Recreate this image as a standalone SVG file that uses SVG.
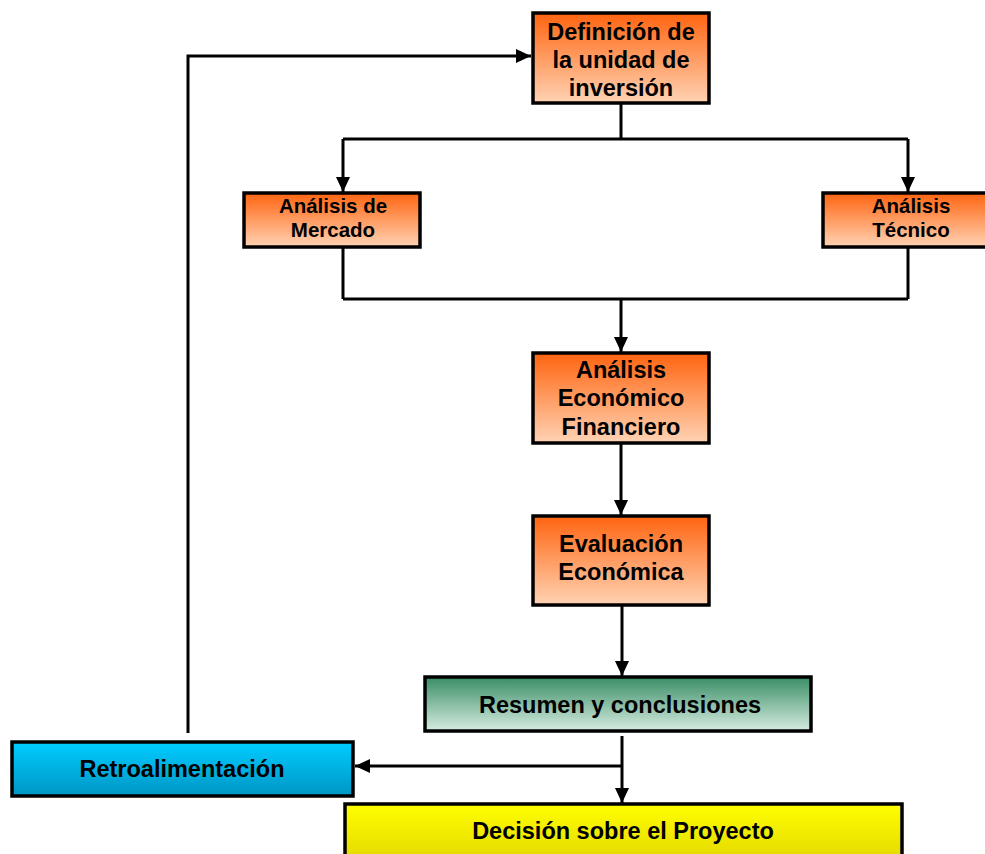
<svg xmlns="http://www.w3.org/2000/svg" width="985" height="854" viewBox="0 0 985 854">
  <style>
    .box { stroke: #000; stroke-width: 3.5; }
    .lbl { font-family: "Liberation Sans", Arial, sans-serif; font-weight: bold; fill: #000; text-anchor: middle; }
    .big { font-size: 23.5px; }
    .small { font-size: 20.5px; }
    .wire { fill: none; stroke: #000; stroke-width: 3; }
  </style>
  <defs>
    <linearGradient id="gOrange" x1="0" y1="0" x2="0" y2="1">
      <stop offset="0" stop-color="#FF6410"/>
      <stop offset="1" stop-color="#FFD3B4"/>
    </linearGradient>
    <linearGradient id="gGreen" x1="0" y1="0" x2="0" y2="1">
      <stop offset="0" stop-color="#3A8E66"/>
      <stop offset="1" stop-color="#D6ECE1"/>
    </linearGradient>
    <linearGradient id="gCyan" x1="0" y1="0" x2="0" y2="1">
      <stop offset="0" stop-color="#00CCFF"/>
      <stop offset="1" stop-color="#0096C4"/>
    </linearGradient>
    <linearGradient id="gYellow" x1="0" y1="0" x2="0" y2="1">
      <stop offset="0" stop-color="#FFFF00"/>
      <stop offset="1" stop-color="#E2D600"/>
    </linearGradient>
    <marker id="arrow" markerUnits="userSpaceOnUse" markerWidth="16" markerHeight="14" refX="15" refY="7" orient="auto">
      <path d="M0,0 L15,7 L0,14 Z" fill="#000"/>
    </marker>
  </defs>

  <g id="connectors">
    <!-- feedback loop back to the first step -->
    <polyline class="wire" points="188,733 188,56 531,56" marker-end="url(#arrow)"/>
    <!-- split into market and technical analysis -->
    <line class="wire" x1="621" y1="104" x2="621" y2="139"/>
    <line class="wire" x1="343" y1="139" x2="908" y2="139"/>
    <line class="wire" x1="343" y1="139" x2="343" y2="192" marker-end="url(#arrow)"/>
    <line class="wire" x1="908" y1="139" x2="908" y2="192" marker-end="url(#arrow)"/>
    <!-- merge into economic analysis -->
    <line class="wire" x1="343" y1="248" x2="343" y2="299"/>
    <line class="wire" x1="908" y1="248" x2="908" y2="299"/>
    <line class="wire" x1="343" y1="299" x2="908" y2="299"/>
    <line class="wire" x1="621" y1="299" x2="621" y2="352" marker-end="url(#arrow)"/>
    <line class="wire" x1="621" y1="444" x2="621" y2="515" marker-end="url(#arrow)"/>
    <line class="wire" x1="622" y1="606" x2="622" y2="676" marker-end="url(#arrow)"/>
    <!-- conclusions to decision and feedback -->
    <line class="wire" x1="622" y1="736" x2="622" y2="803" marker-end="url(#arrow)"/>
    <line class="wire" x1="622" y1="766" x2="355" y2="766" marker-end="url(#arrow)"/>
  </g>

  <g id="definicion">
    <rect class="box" x="533" y="13" width="176" height="90" fill="url(#gOrange)"/>
    <text class="lbl big" x="621" y="40">Definición de</text>
    <text class="lbl big" x="621" y="68">la unidad de</text>
    <text class="lbl big" x="621" y="96">inversión</text>
  </g>

  <g id="mercado">
    <rect class="box" x="244" y="193" width="176" height="54" fill="url(#gOrange)"/>
    <text class="lbl small" x="333" y="213">Análisis de</text>
    <text class="lbl small" x="333" y="237">Mercado</text>
  </g>

  <g id="tecnico">
    <rect class="box" x="823" y="193" width="176" height="54" fill="url(#gOrange)"/>
    <text class="lbl small" x="911" y="213">Análisis</text>
    <text class="lbl small" x="911" y="237">Técnico</text>
  </g>

  <g id="economico">
    <rect class="box" x="533" y="353" width="176" height="90" fill="url(#gOrange)"/>
    <text class="lbl big" x="621" y="378">Análisis</text>
    <text class="lbl big" x="621" y="406">Económico</text>
    <text class="lbl big" x="621" y="435">Financiero</text>
  </g>

  <g id="evaluacion">
    <rect class="box" x="533" y="516" width="176" height="89" fill="url(#gOrange)"/>
    <text class="lbl big" x="621" y="552">Evaluación</text>
    <text class="lbl big" x="621" y="580">Económica</text>
  </g>

  <g id="resumen">
    <rect class="box" x="425" y="677" width="386" height="54" fill="url(#gGreen)"/>
    <text class="lbl big" x="620" y="713">Resumen y conclusiones</text>
  </g>

  <g id="retroalimentacion">
    <rect class="box" x="12" y="742" width="341" height="54" fill="url(#gCyan)"/>
    <text class="lbl big" x="182" y="777">Retroalimentación</text>
  </g>

  <g id="decision">
    <rect class="box" x="345" y="804" width="557" height="60" fill="url(#gYellow)"/>
    <text class="lbl big" x="623" y="839">Decisión sobre el Proyecto</text>
  </g>
</svg>
